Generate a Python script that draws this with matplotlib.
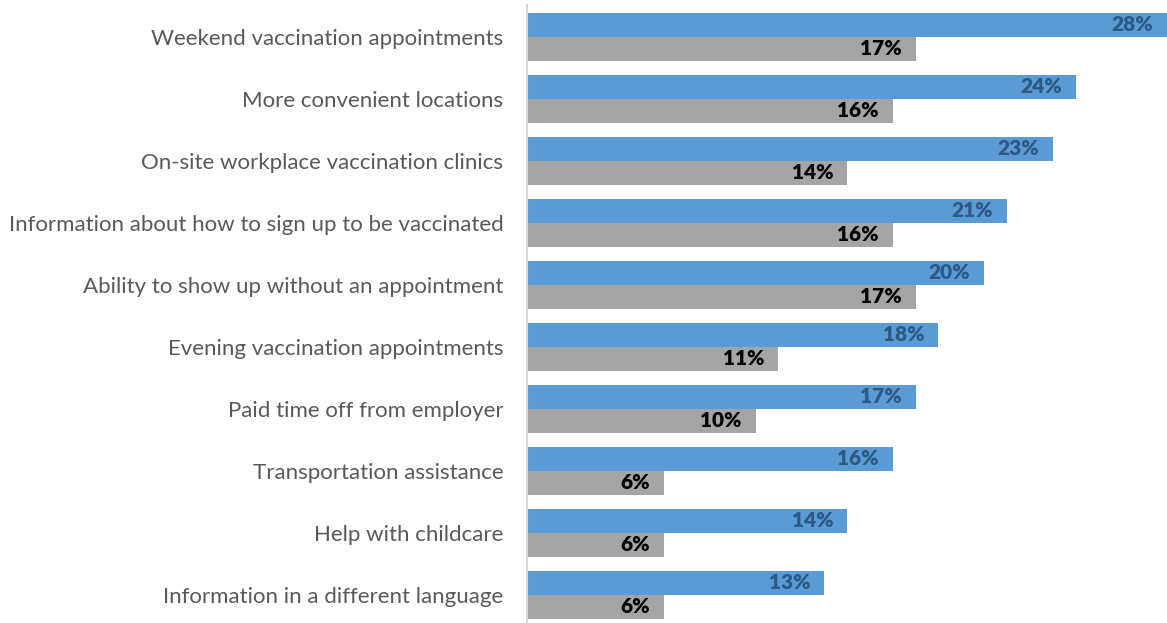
import matplotlib.pyplot as plt
import numpy as np

categories = [
    "Weekend vaccination appointments",
    "More convenient locations",
    "On-site workplace vaccination clinics",
    "Information about how to sign up to be vaccinated",
    "Ability to show up without an appointment",
    "Evening vaccination appointments",
    "Paid time off from employer",
    "Transportation assistance",
    "Help with childcare",
    "Information in a different language",
]
blue_vals = [28, 24, 23, 21, 20, 18, 17, 16, 14, 13]
gray_vals = [17, 16, 14, 16, 17, 11, 10, 6, 6, 6]

plt.rcParams['font.family'] = ['Lato', 'DejaVu Sans']

fig = plt.figure(figsize=(11.67, 6.23), dpi=100)
ax = fig.add_axes([527 / 1167, 0, 640 / 1167, 618 / 623])

y = np.arange(len(categories))
h = 0.387
ax.barh(y - h / 2, blue_vals, height=h, color="#5B9BD5")
ax.barh(y + h / 2, gray_vals, height=h, color="#A5A5A5")

for yi, v in zip(y, blue_vals):
    ax.text(v - 0.6, yi - h / 2, f"{v}%", ha="right", va="center",
            fontsize=15, fontweight="heavy", color="#2C5985")
for yi, v in zip(y, gray_vals):
    ax.text(v - 0.6, yi + h / 2, f"{v}%", ha="right", va="center",
            fontsize=15, fontweight="heavy", color="black")

ax.set_xlim(0, 28)
ax.set_ylim(9.452, -0.516)
ax.set_yticks(y)
ax.set_yticklabels(categories, fontsize=16, color="#595959")
ax.tick_params(axis="y", length=0, pad=17)
ax.set_xticks([])
for s in ["top", "right", "bottom"]:
    ax.spines[s].set_visible(False)
ax.spines["left"].set_color("#D9D9D9")
ax.spines["left"].set_linewidth(1.5)

fig.savefig("out.png", dpi=100)
